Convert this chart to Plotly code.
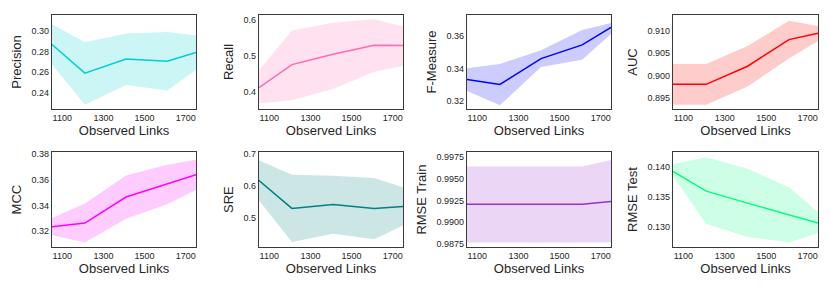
import plotly.graph_objects as go

links = [1050, 1210, 1410, 1610, 1750]
x_ticks = [1100, 1300, 1500, 1700]

names = ["Precision", "Recall", "F-Measure", "AUC", "MCC", "SRE", "RMSE Train", "RMSE Test"]

precision_mean = [0.287, 0.2589, 0.2728, 0.2705, 0.2793]
precision_hi = [0.3068, 0.2893, 0.2977, 0.2993, 0.2958]
precision_lo = [0.2676, 0.2277, 0.2472, 0.2419, 0.2621]

recall_mean = [0.4128, 0.4764, 0.5048, 0.5295, 0.529]
recall_hi = [0.461, 0.5705, 0.5916, 0.6016, 0.5816]
recall_lo = [0.3692, 0.378, 0.4093, 0.4564, 0.4727]

fmeasure_mean = [0.3332, 0.3302, 0.3462, 0.3547, 0.3655]
fmeasure_hi = [0.3402, 0.3429, 0.3514, 0.3639, 0.3682]
fmeasure_lo = [0.3261, 0.3173, 0.341, 0.3455, 0.3614]

auc_mean = [0.8981, 0.8981, 0.9021, 0.908, 0.9094]
auc_hi = [0.9026, 0.9026, 0.9066, 0.9122, 0.911]
auc_lo = [0.8936, 0.8936, 0.8976, 0.9038, 0.9077]

mcc_mean = [0.3233, 0.3262, 0.3466, 0.3566, 0.3641]
mcc_hi = [0.3302, 0.3415, 0.3635, 0.3718, 0.3757]
mcc_lo = [0.3166, 0.311, 0.3295, 0.341, 0.352]

sre_mean = [0.6169, 0.5298, 0.5421, 0.5298, 0.536]
sre_hi = [0.6806, 0.6354, 0.6323, 0.6251, 0.5963]
sre_lo = [0.5543, 0.4246, 0.4508, 0.4333, 0.4763]

rmse_train_mean = [0.99206, 0.99206, 0.99206, 0.99206, 0.99237]
rmse_train_hi = [0.99643, 0.99643, 0.99643, 0.99643, 0.99719]
rmse_train_lo = [0.98761, 0.98761, 0.98761, 0.98761, 0.98761]

rmse_test_mean = [0.13928, 0.136, 0.134, 0.1321, 0.13066]
rmse_test_hi = [0.14054, 0.14164, 0.13972, 0.13666, 0.13246]
rmse_test_lo = [0.13846, 0.13054, 0.12836, 0.12743, 0.12902]

means = [precision_mean, recall_mean, fmeasure_mean, auc_mean, mcc_mean, sre_mean, rmse_train_mean, rmse_test_mean]
his = [precision_hi, recall_hi, fmeasure_hi, auc_hi, mcc_hi, sre_hi, rmse_train_hi, rmse_test_hi]
los = [precision_lo, recall_lo, fmeasure_lo, auc_lo, mcc_lo, sre_lo, rmse_train_lo, rmse_test_lo]

colors = [(0, 206, 209), (255, 105, 180), (0, 0, 255), (255, 0, 0),
          (255, 0, 255), (0, 128, 128), (153, 50, 204), (0, 255, 127)]

y_ranges = [[0.2235, 0.3162], [0.3536, 0.6136], [0.3149, 0.3733], [0.8926, 0.9135],
            [0.3077, 0.3815], [0.4098, 0.7052], [0.98712, 0.99807], [0.12672, 0.14246]]
y_ticks = [[0.24, 0.26, 0.28, 0.30], [0.4, 0.5, 0.6], [0.32, 0.34, 0.36],
           [0.895, 0.900, 0.905, 0.910], [0.32, 0.34, 0.36, 0.38], [0.5, 0.6, 0.7],
           [0.9875, 0.9900, 0.9925, 0.9950, 0.9975], [0.130, 0.135, 0.140]]
y_fmt = [".2f", ".1f", ".2f", ".3f", ".2f", ".1f", ".4f", ".3f"]

col_dom = [[52 / 830, 196 / 830], [259 / 830, 403 / 830], [467 / 830, 611 / 830], [673 / 830, 818 / 830]]
row_dom = [[1 - 108 / 291, 1 - 12 / 291], [1 - 248 / 291, 1 - 152 / 291]]

FONT = "Liberation Sans, Arial, Helvetica, sans-serif"
fig = go.Figure()
layout = {}
for i in range(8):
    r, c = divmod(i, 4)
    ax = "" if i == 0 else str(i + 1)
    cr, cg, cb = colors[i]
    fig.add_trace(go.Scatter(
        x=links + links[::-1], y=his[i] + los[i][::-1],
        fill="toself", fillcolor=f"rgba({cr},{cg},{cb},0.2)",
        line=dict(width=0), mode="lines", hoverinfo="skip", showlegend=False,
        xaxis="x" + ax, yaxis="y" + ax))
    fig.add_trace(go.Scatter(
        x=links, y=means[i], mode="lines",
        line=dict(color=f"rgb({cr},{cg},{cb})", width=1.5), showlegend=False,
        xaxis="x" + ax, yaxis="y" + ax))
    common = dict(showline=True, mirror=True, linecolor="#3a3a3a", linewidth=1.3,
                  showgrid=False, zeroline=False, ticks="",
                  tickfont=dict(size=9, color="#262626", family=FONT))
    layout["xaxis" + ax] = dict(
        domain=col_dom[c], anchor="y" + ax, range=[1050, 1750],
        tickvals=x_ticks, ticktext=[str(v) for v in x_ticks],
        title=dict(text="Observed Links", font=dict(size=13, color="#262626", family=FONT), standoff=2),
        **common)
    layout["yaxis" + ax] = dict(
        domain=row_dom[r], anchor="x" + ax, range=y_ranges[i],
        tickvals=y_ticks[i], tickformat=y_fmt[i],
        title=dict(text=names[i], font=dict(size=13, color="#262626", family=FONT), standoff=6),
        **common)

fig.update_layout(
    width=830, height=291, margin=dict(l=0, r=0, t=0, b=0),
    plot_bgcolor="white", paper_bgcolor="white",
    font=dict(family=FONT), **layout)
fig.write_html("out.html", config={"displayModeBar": False},
               post_script="document.body.style.margin='0';")
